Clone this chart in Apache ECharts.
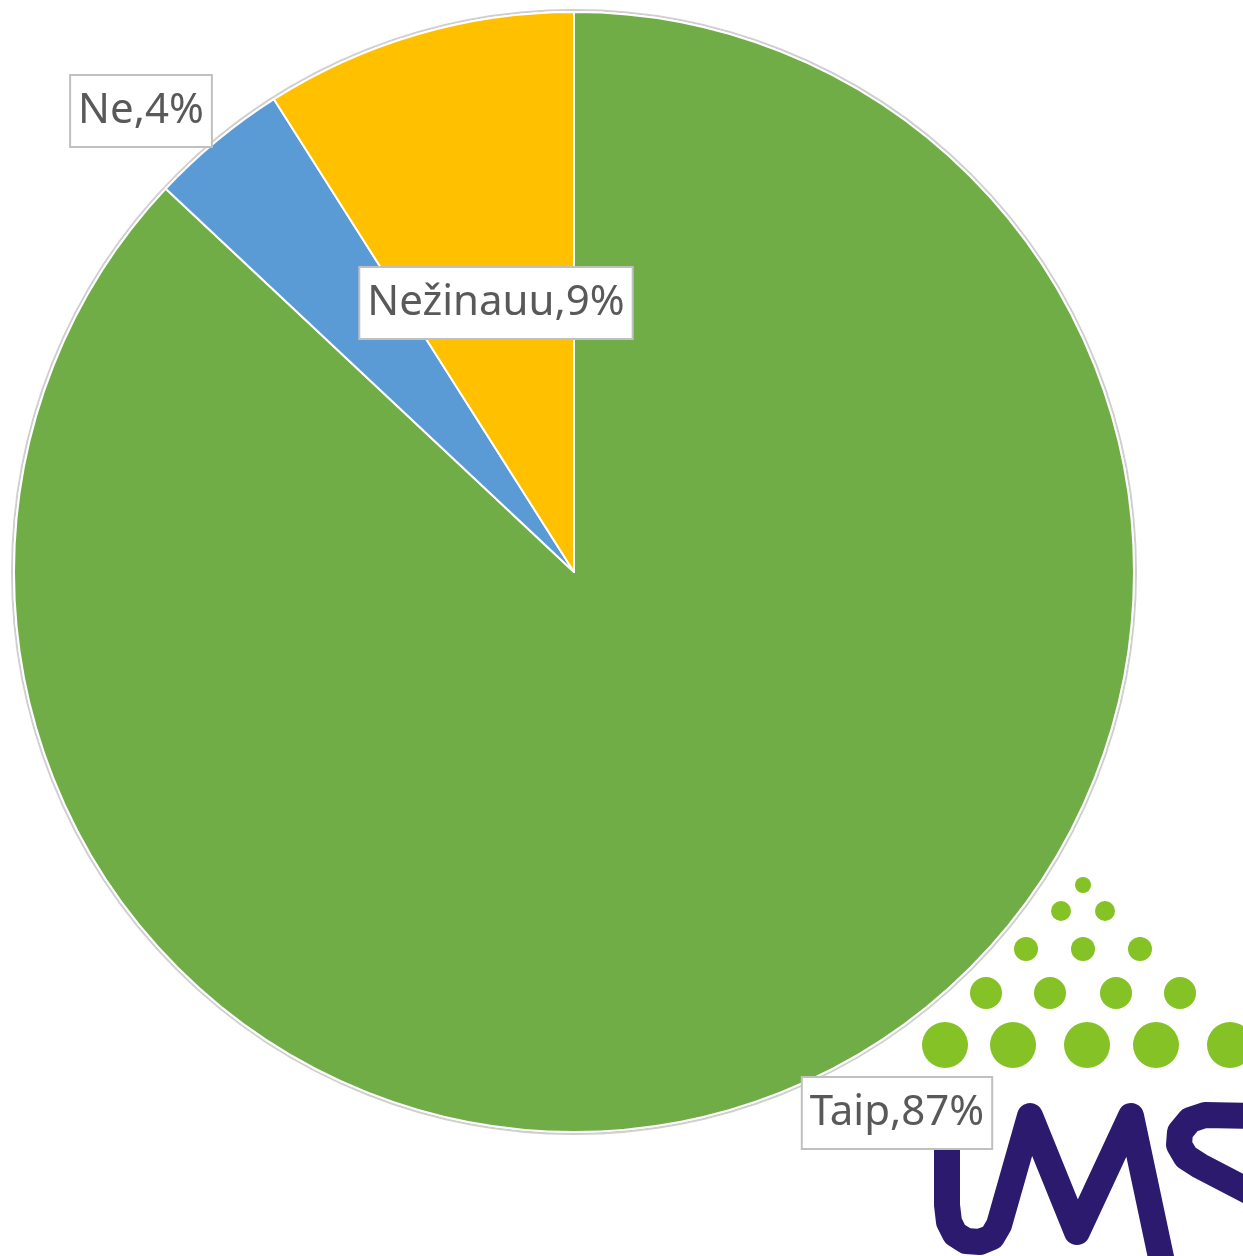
<!DOCTYPE html>
<html>
<head>
<meta charset="utf-8">
<script src="https://cdn.jsdelivr.net/npm/echarts@6/dist/echarts.min.js"></script>
<style>
  html, body { margin: 0; padding: 0; background: #fff; }
  #chart { width: 1243px; height: 1256px; }
</style>
</head>
<body>
<div id="chart"></div>
<script>
// data
var categories = ["Taip", "Ne", "Nežinauu"];
var values = [87, 4, 9];
var colors = ["#70AD47", "#5B9BD5", "#FFC000"];

// where the label boxes sit (centres, px)
var labelPos = [[897, 1113], [141, 111], [496, 303]];

var pieCenter = [574, 572];
var pieRadius = 560;

// logo dots: rows of [cx, cy, r]
var logoDots = [
  [1083, 885, 8],
  [1061, 911, 10], [1105, 911, 10],
  [1026, 949, 12], [1083, 949, 12], [1140, 949, 12],
  [986, 993, 16], [1050, 993, 16], [1116, 993, 16], [1180, 993, 16],
  [945, 1045, 23], [1013, 1045, 23], [1087, 1045, 23], [1156, 1045, 23], [1230, 1045, 23]
];

var chart = echarts.init(document.getElementById("chart"));

var logoStroke = { stroke: "#2B1A6E", lineWidth: 26, fill: "none", lineCap: "round", lineJoin: "round" };

var graphics = [
  {
    type: "circle",
    z: 1,
    silent: true,
    shape: { cx: pieCenter[0], cy: pieCenter[1], r: pieRadius + 2 },
    style: { fill: "none", stroke: "#cfcfcf", lineWidth: 2 }
  }
];
logoDots.forEach(function (d) {
  graphics.push({
    type: "circle",
    z: 1,
    silent: true,
    shape: { cx: d[0], cy: d[1], r: d[2] },
    style: { fill: "#85C226" }
  });
});
// "LMS" letters as thick round strokes
graphics.push({
  type: "polyline",
  z: 1,
  silent: true,
  shape: {
    points: [[947, 1120], [947, 1205], [949, 1222], [955, 1234], [966, 1241], [980, 1242],
             [992, 1237], [999, 1225], [1030, 1116], [1077, 1232], [1131, 1116], [1162, 1262]]
  },
  style: logoStroke
});
graphics.push({
  type: "polyline",
  z: 1,
  silent: true,
  shape: {
    points: [[1250, 1116], [1205, 1115], [1190, 1120], [1180, 1132], [1179, 1145],
             [1186, 1157], [1200, 1166], [1250, 1192]]
  },
  style: logoStroke
});

var option = {
  backgroundColor: "#fff",
  animation: false,
  graphic: graphics,
  series: [
    {
      type: "pie",
      z: 2,
      center: pieCenter,
      radius: pieRadius,
      startAngle: 90,
      clockwise: true,
      data: categories.map(function (c, i) {
        return { name: c, value: values[i], itemStyle: { color: colors[i] } };
      }),
      itemStyle: { borderColor: "#fff", borderWidth: 2 },
      label: {
        show: true,
        position: "inside",
        formatter: "{b},{d}%",
        fontFamily: "Noto Sans",
        fontSize: 42,
        color: "#595959",
        backgroundColor: "#fff",
        borderColor: "#c0c0c0",
        borderWidth: 2,
        padding: [15, 7, 13, 7]
      },
      labelLine: { show: false },
      labelLayout: function (params) {
        var p = labelPos[params.dataIndex];
        return { x: p[0], y: p[1], align: "center", verticalAlign: "middle" };
      },
      emphasis: { disabled: true }
    }
  ]
};

chart.setOption(option);
</script>
</body>
</html>
